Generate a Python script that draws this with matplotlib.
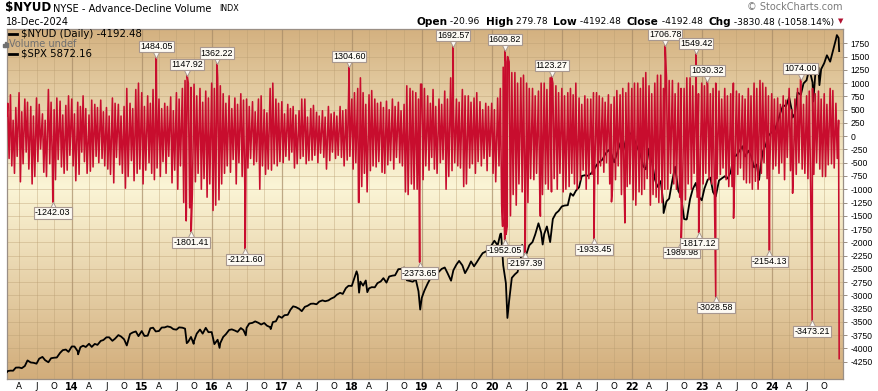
import numpy as np
import pandas as pd
import matplotlib
matplotlib.use("Agg")
import matplotlib.pyplot as plt
from matplotlib.colors import LinearSegmentedColormap
from matplotlib.lines import Line2D
from matplotlib.patches import Rectangle
from matplotlib.transforms import ScaledTranslation

plt.rcParams['axes.unicode_minus'] = False
plt.rcParams['font.family'] = ['DejaVu Sans']

# ---------------- data ----------------
# $NYUD band, sampled on the 1st, 8th, 15th and 22nd of each month
nyud_2013 = [620, -420, 780, -560, 300, -700, 540, -380, 820, -860, 460, -520, 700, -300, 640, -620,
             560, -900, 380, -760, 720, -480, 600, -240, 420, -680, 300, -760, 880, -520, 640, -600,
             500, -820, 720, -440, 660, -580, 400, -700, 580, -640, 760, -360]  # Feb..Dec
nyud_2014 = [700, -560, 420, -840, 640, -720, 560, -300, 760, -480, 520, -700, 400, -660, 680, -580,
             600, -380, 540, -500, 680, -420, 460, -560, 540, -620, 380, -720, 720, -880, 620, -400,
             600, -540, 380, -700, 560, -980, 900, -760, 620, -460, 520, -840, 880, -700, 1000, -620]
nyud_2015 = [820, -900, 560, -640, 760, -500, 620, -700, 880, -820, 640, -600, 700, -760, 520, -480,
             620, -700, 560, -380, 740, -880, 480, -640, 820, -1000, 700, -560, 900, -1250, 1050, -1400,
             1000, -1350, 920, -1100, 980, -860, 760, -700, 900, -1000, 640, -800, 850, -1150, 720, -900]
nyud_2016 = [1000, -1400, 900, -1300, 1100, -1200, 950, -900, 800, -700, 620, -560, 760, -680, 520, -440,
             720, -900, 600, -500, 800, -760, 680, -1000, 700, -600, 560, -420, 650, -540, 460, -480,
             700, -1000, 760, -560, 500, -720, 440, -620, 900, -640, 1000, -520, 700, -560, 620, -480]
nyud_2017 = [650, -500, 420, -380, 600, -450, 520, -300, 560, -600, 400, -520, 480, -420, 700, -380,
             700, -520, 360, -460, 520, -450, 580, -360, 450, -500, 380, -320, 480, -400, 360, -620,
             560, -460, 420, -300, 450, -420, 380, -360, 560, -400, 480, -560, 500, -450, 700, -380]
nyud_2018 = [700, -620, 820, -500, 900, -1250, 1100, -950, 820, -700, 600, -1050, 780, -650, 860, -560,
             700, -580, 620, -480, 640, -680, 540, -700, 660, -540, 500, -460, 700, -620, 560, -400,
             640, -500, 480, -560, 600, -1050, 950, -1100, 900, -900, 850, -1000, 820, -1000, 700, -1100]
nyud_2019 = [980, -820, 900, -560, 760, -640, 620, -400, 880, -620, 560, -700, 700, -500, 600, -440,
             850, -1000, 700, -760, 1100, -650, 620, -500, 700, -560, 640, -600, 880, -950, 760, -900,
             760, -600, 640, -520, 720, -700, 820, -480, 650, -560, 500, -420, 620, -650, 560, -380]
nyud_2020 = [620, -700, 500, -860, 720, -560, 900, -1300, 1300, -1800, 1400, -1700, 1400, -1500, 1200, -1100,
             1200, -1300, 1000, -900, 1100, -1050, 1150, -1200, 1000, -1250, 900, -800, 900, -820, 760, -700,
             850, -1150, 1000, -1100, 1000, -900, 880, -1000, 1100, -1050, 1000, -800, 950, -1000, 820, -700]
nyud_2021 = [900, -1050, 760, -1000, 820, -950, 900, -700, 780, -900, 1000, -1000, 720, -820, 600, -640,
             760, -1000, 700, -800, 700, -720, 820, -600, 820, -900, 760, -560, 720, -680, 640, -500,
             780, -900, 600, -1000, 740, -820, 860, -560, 780, -1100, 900, -1000, 820, -950, 1000, -900]
nyud_2022 = [900, -1200, 1000, -1300, 1000, -1050, 900, -1100, 1100, -1000, 1200, -800, 950, -1300, 800, -1100,
             1000, -1150, 1150, -1250, 1150, -1250, 900, -1000, 1100, -1000, 1050, -700, 1050, -900, 800, -1000,
             1000, -1150, 900, -1200, 900, -1200, 1100, -900, 1100, -1000, 950, -700, 950, -1150, 800, -1000]
nyud_2023 = [1000, -900, 950, -700, 950, -820, 800, -900, 900, -1050, 1000, -800, 850, -720, 700, -600,
             900, -820, 760, -950, 800, -950, 1000, -700, 850, -720, 800, -600, 760, -820, 700, -880,
             900, -880, 760, -1000, 1000, -850, 900, -1000, 1050, -700, 1000, -500, 920, -800, 760, -600]
nyud_2024 = [800, -620, 700, -560, 720, -700, 600, -500, 760, -820, 680, -400, 900, -650, 500, -800,
             700, -720, 900, -500, 820, -620, 600, -700, 760, -800, 850, -900, 900, -720, 800, -500,
             850, -620, 700, -760, 800, -760, 600, -540, 900, -520, 860, -600, 620, -420, 300]  # ..Dec 15

# labelled spikes
spike_dates = ['2013-09-24', '2015-03-18', '2015-08-26', '2015-09-16', '2016-01-29', '2016-06-24',
               '2017-12-18', '2018-12-21', '2019-06-14', '2020-03-10', '2020-03-09', '2020-06-24',
               '2020-11-09', '2021-06-18', '2022-06-24', '2022-09-16', '2022-12-02', '2022-12-16',
               '2023-01-30', '2023-03-15', '2023-12-20', '2024-05-31', '2024-07-30']
spike_values = [-1242.03, 1484.05, 1147.92, -1801.41, 1362.22, -2121.60,
                1304.60, -2373.65, 1692.57, 1609.82, -1952.05, -2197.39,
                1123.27, -1933.45, 1706.78, -1989.98, 1549.42, -1817.12,
                1030.32, -3028.58, -2154.13, 1074.00, -3473.21]

# other unlabelled points
extra_dates = ['2013-01-28', '2015-08-21', '2018-02-05', '2018-12-26', '2020-02-27', '2020-03-13',
               '2020-03-16', '2020-03-24', '2020-09-11', '2021-09-17', '2021-11-26', '2023-06-16',
               '2024-04-19', '2024-12-18']
extra_values = [380, -1596, -1245, 980, -1700, 1450,
                -1850, 1500, -1507, -1238, -1634, -1545,
                -1075, -4192.48]

# $SPX, sampled on the 1st and 15th of each month
spx_2013 = [1513, 1519, 1518, 1560, 1562, 1552, 1582, 1658, 1630, 1626, 1614, 1682, 1706, 1661, 1633, 1688, 1695, 1698, 1761, 1798, 1806, 1775]  # Feb..Dec
spx_2014 = [1848, 1848, 1782, 1838, 1859, 1841, 1885, 1842, 1883, 1870, 1924, 1936, 1973, 1973, 1925, 1955, 2003, 1984, 1946, 1862, 2018, 2039, 2053, 1989]
spx_2015 = [2058, 1992, 1995, 2096, 2104, 2053, 2059, 2106, 2108, 2122, 2111, 2084, 2077, 2108, 2104, 2091, 1914, 1978, 1923, 2023, 2079, 2023, 2102, 2043]
spx_2016 = [2044, 1880, 1940, 1895, 1978, 2015, 2073, 2081, 2065, 2047, 2099, 2071, 2102, 2161, 2170, 2190, 2170, 2147, 2168, 2132, 2111, 2180, 2191, 2262]
spx_2017 = [2239, 2274, 2279, 2349, 2395, 2385, 2362, 2329, 2388, 2402, 2430, 2432, 2423, 2459, 2476, 2464, 2476, 2500, 2519, 2553, 2579, 2564, 2642, 2675]
spx_2018 = [2673, 2786, 2821, 2731, 2677, 2747, 2640, 2656, 2654, 2711, 2734, 2779, 2718, 2801, 2813, 2818, 2901, 2904, 2924, 2750, 2740, 2730, 2760, 2600]
spx_2019 = [2510, 2610, 2706, 2775, 2803, 2822, 2867, 2905, 2924, 2850, 2752, 2886, 2964, 3014, 2953, 2847, 2926, 3007, 2940, 2995, 3066, 3120, 3141, 3168]
spx_2020 = [3230, 3289, 3225, 3380, 2954, 2711, 2470, 2783, 2831, 2863, 3055, 3066, 3115, 3226, 3271, 3373, 3526, 3401, 3380, 3483, 3270, 3585, 3662, 3694]
spx_2021 = [3756, 3768, 3773, 3934, 3901, 3968, 4019, 4170, 4181, 4173, 4202, 4246, 4319, 4360, 4395, 4468, 4524, 4480, 4357, 4471, 4613, 4682, 4513, 4709]
spx_2022 = [4766, 4662, 4546, 4471, 4306, 4262, 4545, 4392, 4131, 4023, 4101, 3790, 3825, 3863, 4118, 4297, 3966, 3901, 3585, 3583, 3856, 3991, 4076, 3895]
spx_2023 = [3840, 3999, 4119, 4148, 3951, 3892, 4109, 4137, 4167, 4136, 4221, 4426, 4450, 4505, 4576, 4437, 4515, 4450, 4288, 4327, 4237, 4502, 4595, 4719]
spx_2024 = [4770, 4784, 4906, 5029, 5137, 5117, 5243, 5061, 5018, 5308, 5277, 5431, 5475, 5631, 5446, 5543, 5648, 5626, 5708, 5815, 5728, 5870, 6032, 6051]

spx_event_dates = ['2013-01-28', '2014-02-03', '2015-08-24', '2015-09-29', '2016-02-11', '2016-06-27',
                   '2016-11-04', '2018-01-26', '2018-02-08', '2018-03-23', '2018-12-24', '2019-06-03',
                   '2020-02-19', '2020-03-23', '2020-06-08', '2020-09-23', '2022-01-03', '2022-06-16',
                   '2022-10-12', '2023-10-27', '2024-04-19', '2024-08-05', '2024-09-06', '2024-12-06',
                   '2024-12-18']
spx_event_values = [1500, 1741, 1893, 1884, 1829, 2000,
                    2085, 2872, 2581, 2588, 2351, 2744,
                    3386, 2237, 3232, 3237, 4796, 3666,
                    3577, 4117, 4967, 5186, 5408, 6090,
                    5872]

right_ticks = list(range(-4250, 1751, 250))
month_letters = {4: 'A', 7: 'J', 10: 'O'}


# ---------------- helpers ----------------
def sample_dates(year, first_month, days):
    return [pd.Timestamp(year, m, d) for m in range(first_month, 13) for d in days]


def build(yearly, days, ex_dates, ex_vals):
    d, v = [], []
    for (yr, vals) in yearly:
        ds = sample_dates(yr, 2 if yr == 2013 else 1, days)
        d += ds[:len(vals)]
        v += list(vals)
    d += [pd.Timestamp(x) for x in ex_dates]
    v += list(ex_vals)
    return pd.Series(v, index=pd.DatetimeIndex(d)).sort_index()


ny_years = [(2013, nyud_2013), (2014, nyud_2014), (2015, nyud_2015), (2016, nyud_2016),
            (2017, nyud_2017), (2018, nyud_2018), (2019, nyud_2019), (2020, nyud_2020),
            (2021, nyud_2021), (2022, nyud_2022), (2023, nyud_2023), (2024, nyud_2024)]
spx_years = [(2013, spx_2013), (2014, spx_2014), (2015, spx_2015), (2016, spx_2016),
             (2017, spx_2017), (2018, spx_2018), (2019, spx_2019), (2020, spx_2020),
             (2021, spx_2021), (2022, spx_2022), (2023, spx_2023), (2024, spx_2024)]

nyud = build(ny_years, (1, 8, 15, 22), spike_dates + extra_dates, spike_values + extra_values)
spx = build(spx_years, (1, 15), spx_event_dates, spx_event_values)

W, H = 879, 391
fig = plt.figure(figsize=(W / 100, H / 100), dpi=100)
renderer = fig.canvas.get_renderer()


def fx(px):
    return px / W


def fy(py):
    return 1 - py / H


rect = [fx(7), 1 - 379 / H, (843 - 7) / W, (379 - 29) / H]
ax = fig.add_axes(rect)
ax_spx = fig.add_axes(rect, sharex=ax)
ax_ny = fig.add_axes(rect, sharex=ax, sharey=ax)
for a in (ax_spx, ax_ny):
    a.patch.set_visible(False)
    a.set_axis_off()

xmin, xmax = pd.Timestamp('2013-01-28'), pd.Timestamp('2025-01-07')

# background gradient
cmap = LinearSegmentedColormap.from_list('bg', [(0.0, '#d2ad7b'), (0.55, '#fbf5d6'), (1.0, '#d4b180')])
grad = np.linspace(0, 1, 256).reshape(-1, 1)
ax.imshow(grad, extent=[0, 1, 0, 1], transform=ax.transAxes, cmap=cmap, aspect='auto',
          origin='lower', zorder=0, interpolation='bilinear')

ax.set_xlim(xmin, xmax)
ax.set_ylim(-4576, 2020)
ax_spx.set_ylim(1405, 6173)

# ticks
years = [pd.Timestamp(y, 1, 1) for y in range(2014, 2025)]
ax.set_xticks(years)
ax.set_xticklabels([f"{y % 100:02d}" for y in range(2014, 2025)], fontweight='bold', fontsize=7)
minor = [pd.Timestamp(y, m, 1) for y in range(2013, 2025) for m in (4, 7, 10)]
ax.set_xticks(minor, minor=True)
ax.set_xticklabels([month_letters[d.month] for d in minor], minor=True, fontsize=6.3)
ax.tick_params(axis='x', which='both', length=0, pad=2.5)

ax.yaxis.tick_right()
ax.set_yticks(right_ticks)
ax.set_yticklabels([str(t) for t in right_ticks], fontsize=6.2, family='Liberation Sans')
ax.tick_params(axis='y', length=3, width=0.7, color='#9a8f85', pad=2.5)

ax.set_axisbelow(True)
ax.grid(axis='y', color='#b89c70', alpha=0.45, lw=0.6)
ax.grid(axis='x', which='minor', color='#b89c70', alpha=0.45, lw=0.6)
ax.grid(axis='x', which='major', color='#a68a66', alpha=0.7, lw=0.9)
for sp in ax.spines.values():
    sp.set_color('#9a8f85')
    sp.set_linewidth(0.9)

# lines
ax_spx.plot(spx.index, spx.values, color='black', lw=1.3, zorder=2)
ax_ny.plot(nyud.index, nyud.values, color='#c80d2e', lw=1.15, zorder=3)
ax_spx.set_xlim(xmin, xmax)

# annotations
box_fc, box_ec = '#fdfaf3', '#a89890'
for d, v in zip(spike_dates, spike_values):
    d = pd.Timestamp(d)
    sgn = 1 if v > 0 else -1
    off = ScaledTranslation(0, sgn * 2.6 / 100, fig.dpi_scale_trans)
    ax_ny.plot([d], [v], marker='v' if v > 0 else '^', ms=5, mfc=box_fc, mec=box_ec, mew=0.7,
               transform=ax_ny.transData + off, zorder=5)
    ax_ny.annotate(f"{v:.2f}", xy=(d, v), xytext=(0, sgn * 4.6), textcoords='offset points',
                   ha='center', va='bottom' if v > 0 else 'top', fontsize=6.4,
                   family='Liberation Sans', zorder=6,
                   bbox=dict(boxstyle='square,pad=0.12', fc=box_fc, ec=box_ec, lw=0.8))

# header
fig.text(fx(5), fy(8), "$NYUD", fontsize=8.6, fontweight='bold', ha='left', va='center')
fig.text(fx(53), fy(8.5), "NYSE - Advance-Decline Volume", fontsize=7.1, ha='left', va='center')
fig.text(fx(219), fy(8.5), "INDX", fontsize=5.8, ha='left', va='center')
fig.text(fx(6), fy(22), "18-Dec-2024", fontsize=7, ha='left', va='center')
fig.text(fx(843), fy(7.5), "\u00a9 StockCharts.com", fontsize=7, color='#7a7a7a', ha='right', va='center')
fig.text(fx(843), fy(21), "\u25bc", fontsize=5, color='#b01030', ha='right', va='center')

pieces = [("Open", True), (" -20.96  ", False), ("High", True), (" 279.78  ", False),
          ("Low", True), (" -4192.48  ", False), ("Close", True), (" -4192.48  ", False),
          ("Chg", True), (" -3830.48 (-1058.14%)", False)]
x = 834
for txt, bold in reversed(pieces):
    t = fig.text(fx(x), fy(22), txt, fontsize=7.6 if bold else 6.6,
                 fontweight='bold' if bold else 'normal', ha='right', va='center')
    x -= t.get_window_extent(renderer).width

# in-chart legend
fig.add_artist(Line2D([fx(9), fx(17)], [fy(34), fy(34)], color='black', lw=2))
fig.text(fx(21), fy(34), "$NYUD (Daily) -4192.48", fontsize=7.3, ha='left', va='center')
for i, h in enumerate([3, 5, 4]):
    fig.add_artist(Rectangle((fx(3.5 + i * 1.6), fy(47)), 1.1 / W, h / H, color='#707070'))
fig.text(fx(9), fy(44), "Volume undef", fontsize=7, color='#707070', ha='left', va='center')
fig.add_artist(Line2D([fx(9), fx(17)], [fy(54), fy(54)], color='black', lw=2))
fig.text(fx(21), fy(54), "$SPX 5872.16", fontsize=7.3, ha='left', va='center')

fig.savefig("out.png", dpi=100)
